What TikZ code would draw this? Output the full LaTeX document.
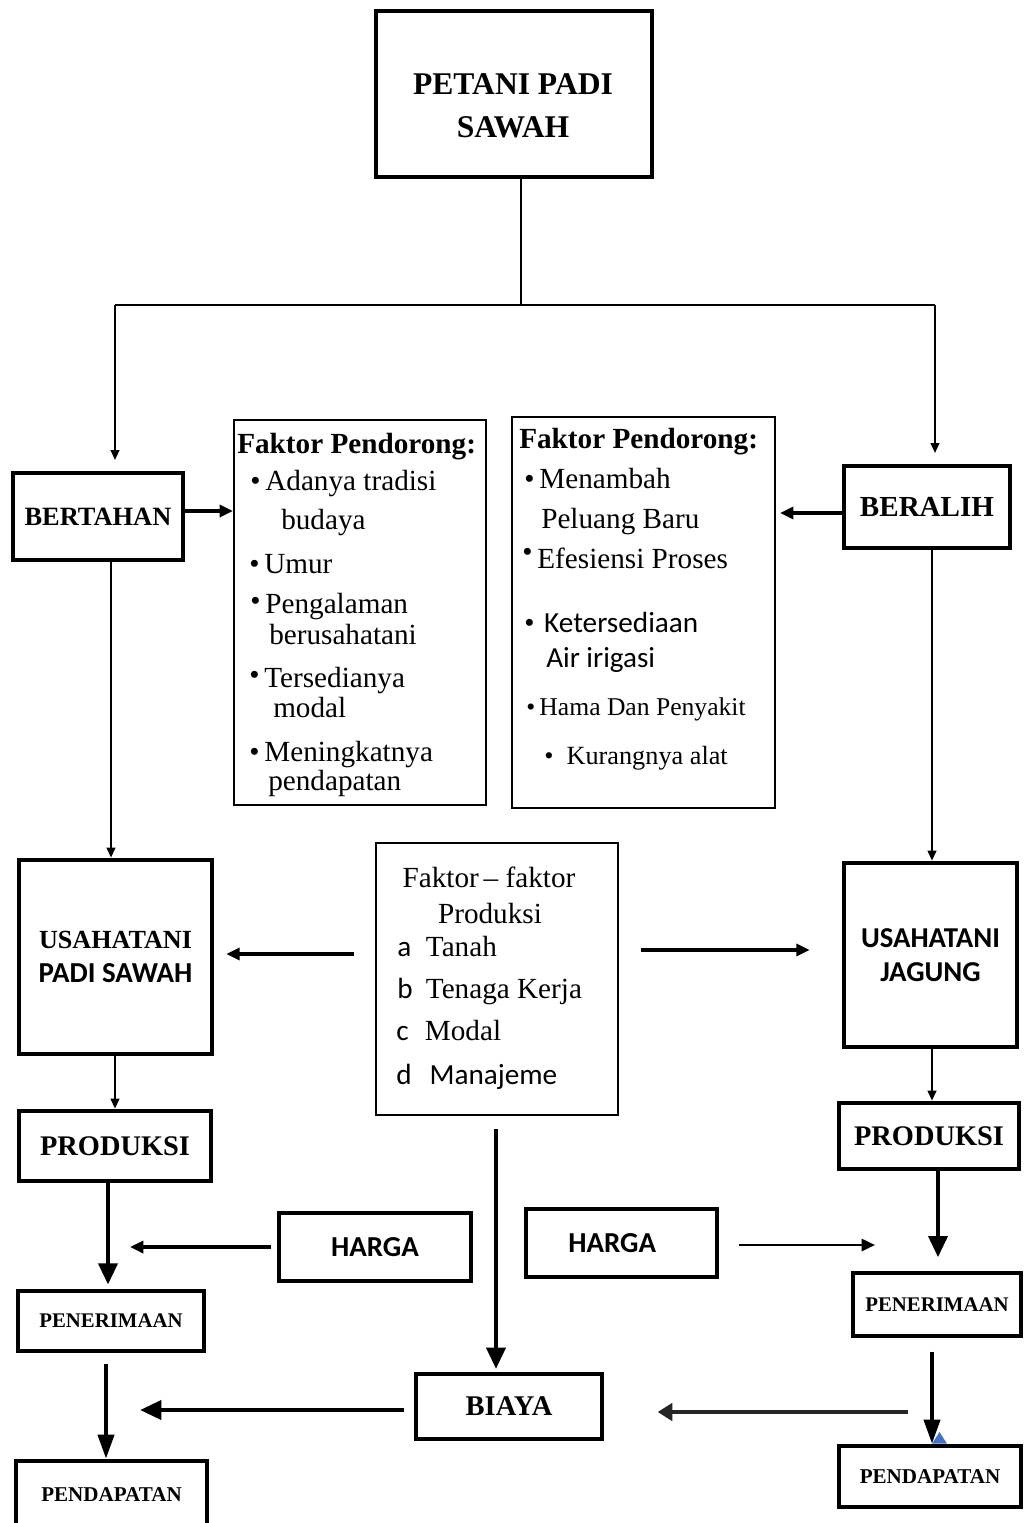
\documentclass[tikz,border=0pt]{standalone}
\usepackage{fontspec}
\setmainfont{Liberation Serif}
\newfontfamily\calibri{Carlito}
\usetikzlibrary{arrows.meta, positioning, calc}
\definecolor{biru}{HTML}{4472C4}
\newcommand{\ukuran}[2]{\fontsize{#1}{#2}\selectfont}
\newcommand{\huruf}[2][21.5pt]{\makebox[#1][l]{\calibri #2}}
\tikzset{
    ukur/.style 2 args={minimum width=#1*0.75pt, minimum height=#2*0.75pt},
    kotak/.style={draw, line width=3.5pt, inner sep=0pt, align=center},
    kotaktipis/.style={draw, line width=1.5pt, inner sep=0pt},
    butir/.style={inner sep=0pt, anchor=base west, font=\ukuran{21.9}{26}},
    garis/.style={line width=1.5pt},
    panah/.style={line width=1.5pt, -{Triangle[length=7.5pt, width=6.5pt]}},
    panahsedang/.style={line width=2.5pt, -{Triangle[length=10pt, width=9pt]}},
    panahbesar/.style={line width=3.5pt, -{Triangle[length=16pt, width=14pt]}},
    panahpanjang/.style={line width=3pt, -{Triangle[length=18pt, width=12pt]}},
    panahabu/.style={line width=3.5pt, draw=black!85, -{Triangle[length=11pt, width=13pt]}},
}
\begin{document}
\begin{tikzpicture}[x=0.75pt, y=-0.75pt]
    \useasboundingbox (0,0) rectangle (1024,1523);

    % puncak
    \node[kotak, ukur={276}{166}] (petani) at (514,94) {};
    \node[font=\ukuran{23.7}{32}\bfseries, align=center] (petaniTeks) at (513,106) {PETANI PADI\\SAWAH};

    \coordinate (cabang) at (521,305);
    \coordinate (cabangKiri) at (115,305);
    \coordinate (cabangKanan) at (935,305);

    \node[kotak, ukur={170}{87}, font=\ukuran{19.8}{24}\bfseries] (bertahan) at (98,516.5) {BERTAHAN};
    \node[kotak, ukur={166}{82}, font=\ukuran{21.8}{26}\bfseries] (beralih) at (927,507) {BERALIH};

    \draw[garis] (petani.south -| cabang) -- (cabang);
    \draw[garis] (cabangKiri) -- (cabangKanan);
    \draw[panah, shorten >=8pt] (cabangKiri) -- (cabangKiri |- bertahan.north);
    \draw[panah, shorten >=8pt] (cabangKanan) -- (cabangKanan |- beralih.north);

    % faktor pendorong
    \node[kotaktipis, ukur={252}{385}] (dorongKiri) at (360,612.5) {};
    \node[kotaktipis, ukur={263}{391}] (dorongKanan) at (643.5,612.5) {};

    \draw[panahsedang] (bertahan.east |- 0,511) -- (dorongKiri.west |- 0,511);
    \draw[panahsedang, shorten >=3pt] (beralih.west |- 0,513) -- (dorongKanan.east |- 0,513);

    \node[butir, font=\ukuran{21.9}{26}\bfseries] (judulKiri) at (237,453) {Faktor Pendorong:};
    \node[butir] (dk1) at (250,490) {\textbullet\,Adanya tradisi};
    \node[butir] (dk2) at (281,529) {budaya};
    \node[butir] (dk3) at (249,573) {\textbullet\,Umur};
    \node[butir] (dk4) at (250,613) {\raisebox{2pt}{\textbullet}\,Pengalaman};
    \node[butir] (dk5) at (269,644) {berusahatani};
    \node[butir] (dk6) at (249,687) {\raisebox{2pt}{\textbullet}\,Tersedianya};
    \node[butir] (dk7) at (273,717) {modal};
    \node[butir] (dk8) at (249,761) {\textbullet\,Meningkatnya};
    \node[butir] (dk9) at (268,790) {pendapatan};

    \node[butir, font=\ukuran{21.9}{26}\bfseries] (judulKanan) at (519,448) {Faktor Pendorong:};
    \node[butir] (dn1) at (524,488) {\textbullet\,Menambah};
    \node[butir] (dn2) at (541,528) {Peluang Baru};
    \node[butir] (dn3) at (522,568) {\raisebox{5pt}{\textbullet}\,Efesiensi Proses};
    \node[butir] (dn4) at (524,632) {\textbullet\,\,{\calibri Ketersediaan}};
    \node[butir, font=\calibri\ukuran{21.8}{26}] (dn5) at (546,667) {Air irigasi};
    \node[butir, font=\ukuran{19.2}{23}] (dn6) at (526,715) {\textbullet\,Hama Dan Penyakit};
    \node[butir, font=\ukuran{19.7}{23}] (dn7) at (544,764) {\textbullet\,\,\,Kurangnya alat};

    % usahatani
    \node[kotak, ukur={193}{194}, font=\ukuran{19.6}{25}\bfseries] (usahaPadi) at (115.5,957) {USAHATANI\\{\calibri\ukuran{21.7}{25}PADI SAWAH}};
    \node[kotak, ukur={173}{184}, font=\calibri\ukuran{21.6}{25.5}\bfseries] (usahaJagung) at (930.5,955) {USAHATANI\\JAGUNG};

    \draw[panah] (bertahan.south -| 111,0) -- (usahaPadi.north -| 111,0);
    \draw[panah] (beralih.south -| 932,0) -- (usahaJagung.north -| 932,0);

    \node[kotaktipis, ukur={242}{272}] (faktorProd) at (497,979) {};
    \node[butir, anchor=base] (fp1) at (489,887) {Faktor\,–\ faktor};
    \node[butir, anchor=base] (fp2) at (490,923) {Produksi};
    \node[butir] (fp3) at (397,956) {\huruf{a}Tanah};
    \node[butir] (fp4) at (397,998) {\huruf{b}Tenaga Kerja};
    \node[butir] (fp5) at (396,1040) {\huruf{c}Modal};
    \node[butir] (fp6) at (396,1084) {\huruf[25pt]{d}{\calibri Manajeme}};

    \draw[panahsedang, shorten <=16pt, shorten >=9pt] (faktorProd.west |- 0,954) -- (usahaPadi.east |- 0,954);
    \draw[panahsedang, shorten <=16.5pt, shorten >=24pt] (faktorProd.east |- 0,950) -- (usahaJagung.west |- 0,950);

    % bagian bawah kiri
    \node[kotak, ukur={192}{70}, font=\ukuran{21.3}{26}\bfseries] (produksiKiri) at (115,1146) {PRODUKSI};
    \node[kotak, ukur={192}{68}, font=\calibri\ukuran{21.7}{26}\bfseries] (hargaKiri) at (375,1247) {HARGA};
    \node[kotak, ukur={186}{60}, font=\ukuran{15.6}{19}\bfseries] (terimaKiri) at (111,1321) {PENERIMAAN};
    \node[kotak, ukur={191}{67}, font=\ukuran{15.8}{19}\bfseries] (dapatKiri) at (111.5,1494.5) {PENDAPATAN};
    \node[kotak, ukur={186}{65}, font=\ukuran{21.4}{26}\bfseries] (biaya) at (509,1406.5) {BIAYA};

    \coordinate (hargaKiriUjung) at (130,1247);
    \coordinate (biayaUjung) at (140,1410);

    \draw[panah] (usahaPadi.south -| 115,0) -- (produksiKiri.north -| 115,0);
    \draw[panahbesar, shorten >=3pt] (produksiKiri.south -| 108,0) -- (terimaKiri.north -| 108,0);
    \draw[panahsedang, shorten <=4pt] (hargaKiri.west |- 0,1247) -- (hargaKiriUjung);
    \draw[panahpanjang, shorten <=8pt] (terimaKiri.south -| 106,0) -- (dapatKiri.north -| 106,0);
    \draw[panahbesar, shorten <=10pt, shorten >=2pt] (faktorProd.south -| 496,0) -- (biaya.north -| 496,0);
    \draw[panahbesar, shorten <=7pt] (biaya.west |- 0,1410) -- (biayaUjung);

    % bagian bawah kanan
    \node[kotak, ukur={180}{66}, font=\ukuran{21.3}{26}\bfseries] (produksiKanan) at (929,1136) {PRODUKSI};
    \node[kotak, ukur={191}{68}, font=\calibri\ukuran{21.7}{26}\bfseries] (hargaKanan) at (621.5,1243) {HARGA\hspace*{14pt}};
    \node[kotak, ukur={168}{63}, font=\ukuran{15.6}{19}\bfseries] (terimaKanan) at (937,1304.5) {PENERIMAAN};
    \node[kotak, ukur={182}{61}, font=\ukuran{15.8}{19}\bfseries] (dapatKanan) at (930,1476.5) {PENDAPATAN};

    \coordinate (hargaKananUjung) at (875,1245);
    \coordinate (abuAwal) at (908,1412);

    \draw[panah] (usahaJagung.south -| 932,0) -- (produksiKanan.north -| 932,0);
    \draw[panahbesar, shorten >=10pt] (produksiKanan.south -| 938,0) -- (terimaKanan.north -| 938,0);
    \draw[panahsedang, line width=2pt, shorten <=15pt] (hargaKanan.east |- 0,1245) -- (hargaKananUjung);
    \draw[panahpanjang, shorten <=10pt] (terimaKanan.south -| 932,0) -- (dapatKanan.north -| 932,0);
    \draw[panahabu, shorten >=40pt] (abuAwal) -- (biaya.east |- 0,1412);
    \fill[biru] (dapatKanan.north -| 932,0) -- (dapatKanan.north -| 947,0) -- (939.5,1432) -- cycle;
\end{tikzpicture}
\end{document}
